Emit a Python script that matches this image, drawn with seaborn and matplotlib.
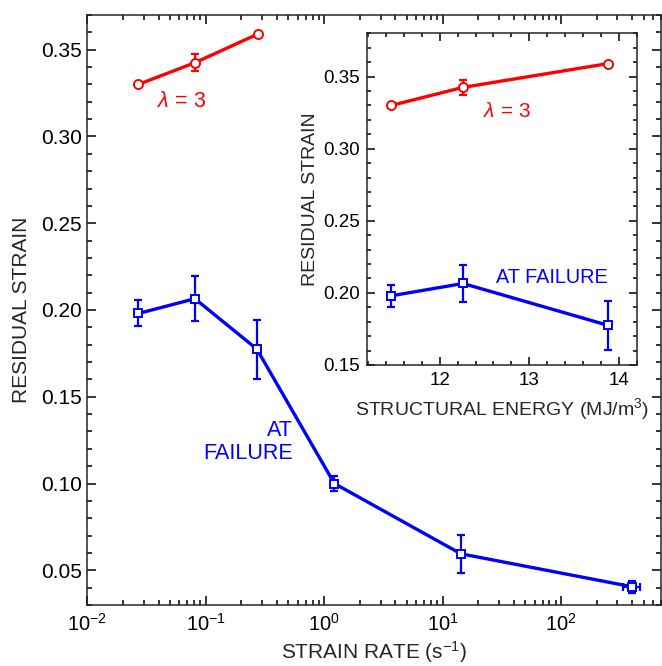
import pandas as pd
import matplotlib.pyplot as plt
import matplotlib.ticker as mticker
import seaborn as sns

# data
strain_rate = [0.027, 0.081, 0.27, 1.22, 14.3, 400]
strain_rate_err = [0, 0, 0, 0, 0, 65]
failure_strain = [0.198, 0.2065, 0.1775, 0.100, 0.0595, 0.0405]
failure_err = [0.0075, 0.013, 0.017, 0.0045, 0.011, 0.0035]

lambda_rate = [0.027, 0.081, 0.275]
lambda_strain = [0.330, 0.3425, 0.359]
lambda_err = [0, 0.005, 0]

energy = [11.46, 12.26, 13.88]  # MJ/m^3, first three rates

main_xticks = [1e-2, 1e-1, 1e0, 1e1, 1e2]
main_xticklabels = [r'$\mathregular{10^{-2}}$', r'$\mathregular{10^{-1}}$',
                    r'$\mathregular{10^{0}}$', r'$\mathregular{10^{1}}$',
                    r'$\mathregular{10^{2}}$']

BLUE = '#0000ff'
RED = '#ff0000'

sns.set_style('ticks')
plt.rcParams['font.family'] = ['Liberation Sans', 'DejaVu Sans']
plt.rcParams['mathtext.fontset'] = 'custom'
plt.rcParams['mathtext.rm'] = 'Liberation Sans'
plt.rcParams['mathtext.it'] = 'Liberation Sans:italic'
plt.rcParams['axes.linewidth'] = 1.1

fail_df = pd.DataFrame({'rate': strain_rate, 'strain': failure_strain,
                        'energy': energy + [None] * 3})
lam_df = pd.DataFrame({'rate': lambda_rate, 'strain': lambda_strain, 'energy': energy})


def draw_series(ax, df, xcol, yerr, xerr, color, marker, ms):
    ax.errorbar(df[xcol], df['strain'], yerr=yerr, xerr=xerr, fmt='none',
                ecolor=color, elinewidth=1.6, capsize=3, capthick=1.6, zorder=2)
    sns.lineplot(data=df, x=xcol, y='strain', ax=ax, color=color, lw=2.4,
                 marker=marker, markersize=ms, markerfacecolor='white',
                 markeredgecolor=color, markeredgewidth=1.4, sort=False,
                 estimator=None, zorder=3)


def style_ticks(ax, major_len, minor_len, size, pad):
    ax.tick_params(which='both', direction='in', top=True, right=True,
                   width=1.1, labelsize=size, colors='black', pad=pad)
    ax.tick_params(which='major', length=major_len)
    ax.tick_params(which='minor', length=minor_len)


fig = plt.figure(figsize=(6.62, 6.66), dpi=100)
ax = fig.add_axes([0.1319, 0.0916, 0.8666, 0.8859])

draw_series(ax, fail_df, 'rate', failure_err, strain_rate_err, BLUE, 's', 5.5)
draw_series(ax, lam_df, 'rate', lambda_err, None, RED, 'o', 6.5)

ax.set_xscale('log')
ax.set_xlim(1e-2, 700)
ax.set_ylim(0.03, 0.37)
ax.set_xticks(main_xticks)
ax.set_xticklabels(main_xticklabels)
ax.xaxis.set_minor_locator(mticker.LogLocator(base=10, subs=range(2, 10), numticks=20))
ax.xaxis.set_minor_formatter(mticker.NullFormatter())
ax.yaxis.set_major_locator(mticker.MultipleLocator(0.05))
ax.yaxis.set_minor_locator(mticker.MultipleLocator(0.01))
ax.yaxis.set_major_formatter(mticker.FormatStrFormatter('%.2f'))
style_ticks(ax, 6.5, 3.5, 15, 4)
ax.tick_params(axis='x', labelsize=14.5, pad=6)
ax.set_xlabel(r'STRAIN RATE (s$^{\mathregular{-1}}$)', fontsize=15, labelpad=3)
ax.set_ylabel('RESIDUAL STRAIN', fontsize=15, labelpad=7)

ax.text(0.063, 0.320, r'$\mathit{\lambda}$ = 3', color=RED, fontsize=15.5,
        ha='center', va='center')
ax.text(0.54, 0.124, 'AT\nFAILURE', color=BLUE, fontsize=15.5,
        ha='right', va='center', multialignment='right', linespacing=1.15)

# inset: residual strain vs structural energy
ins = fig.add_axes([0.5548, 0.452, 0.4069, 0.498])
draw_series(ins, fail_df.iloc[:3], 'energy', failure_err[:3], None, BLUE, 's', 5.5)
draw_series(ins, lam_df, 'energy', lambda_err, None, RED, 'o', 6.5)
ins.set_xlim(11.19, 14.2)
ins.set_ylim(0.15, 0.38)
ins.xaxis.set_major_locator(mticker.MultipleLocator(1))
ins.xaxis.set_minor_locator(mticker.MultipleLocator(0.2))
ins.yaxis.set_major_locator(mticker.MultipleLocator(0.05))
ins.yaxis.set_minor_locator(mticker.MultipleLocator(0.01))
ins.yaxis.set_major_formatter(mticker.FormatStrFormatter('%.2f'))
style_ticks(ins, 5.5, 3, 13.5, 5)
ins.set_xlabel(r'STRUCTURAL ENERGY (MJ/m$^{\mathregular{3}}$)', fontsize=14, labelpad=5)
ins.set_ylabel('RESIDUAL STRAIN', fontsize=14, labelpad=3)
ins.text(12.75, 0.326, r'$\mathit{\lambda}$ = 3', color=RED, fontsize=15,
         ha='center', va='center')
ins.text(13.25, 0.2104, 'AT FAILURE', color=BLUE, fontsize=14.3,
         ha='center', va='center')

fig.savefig('out.png', dpi=100)
